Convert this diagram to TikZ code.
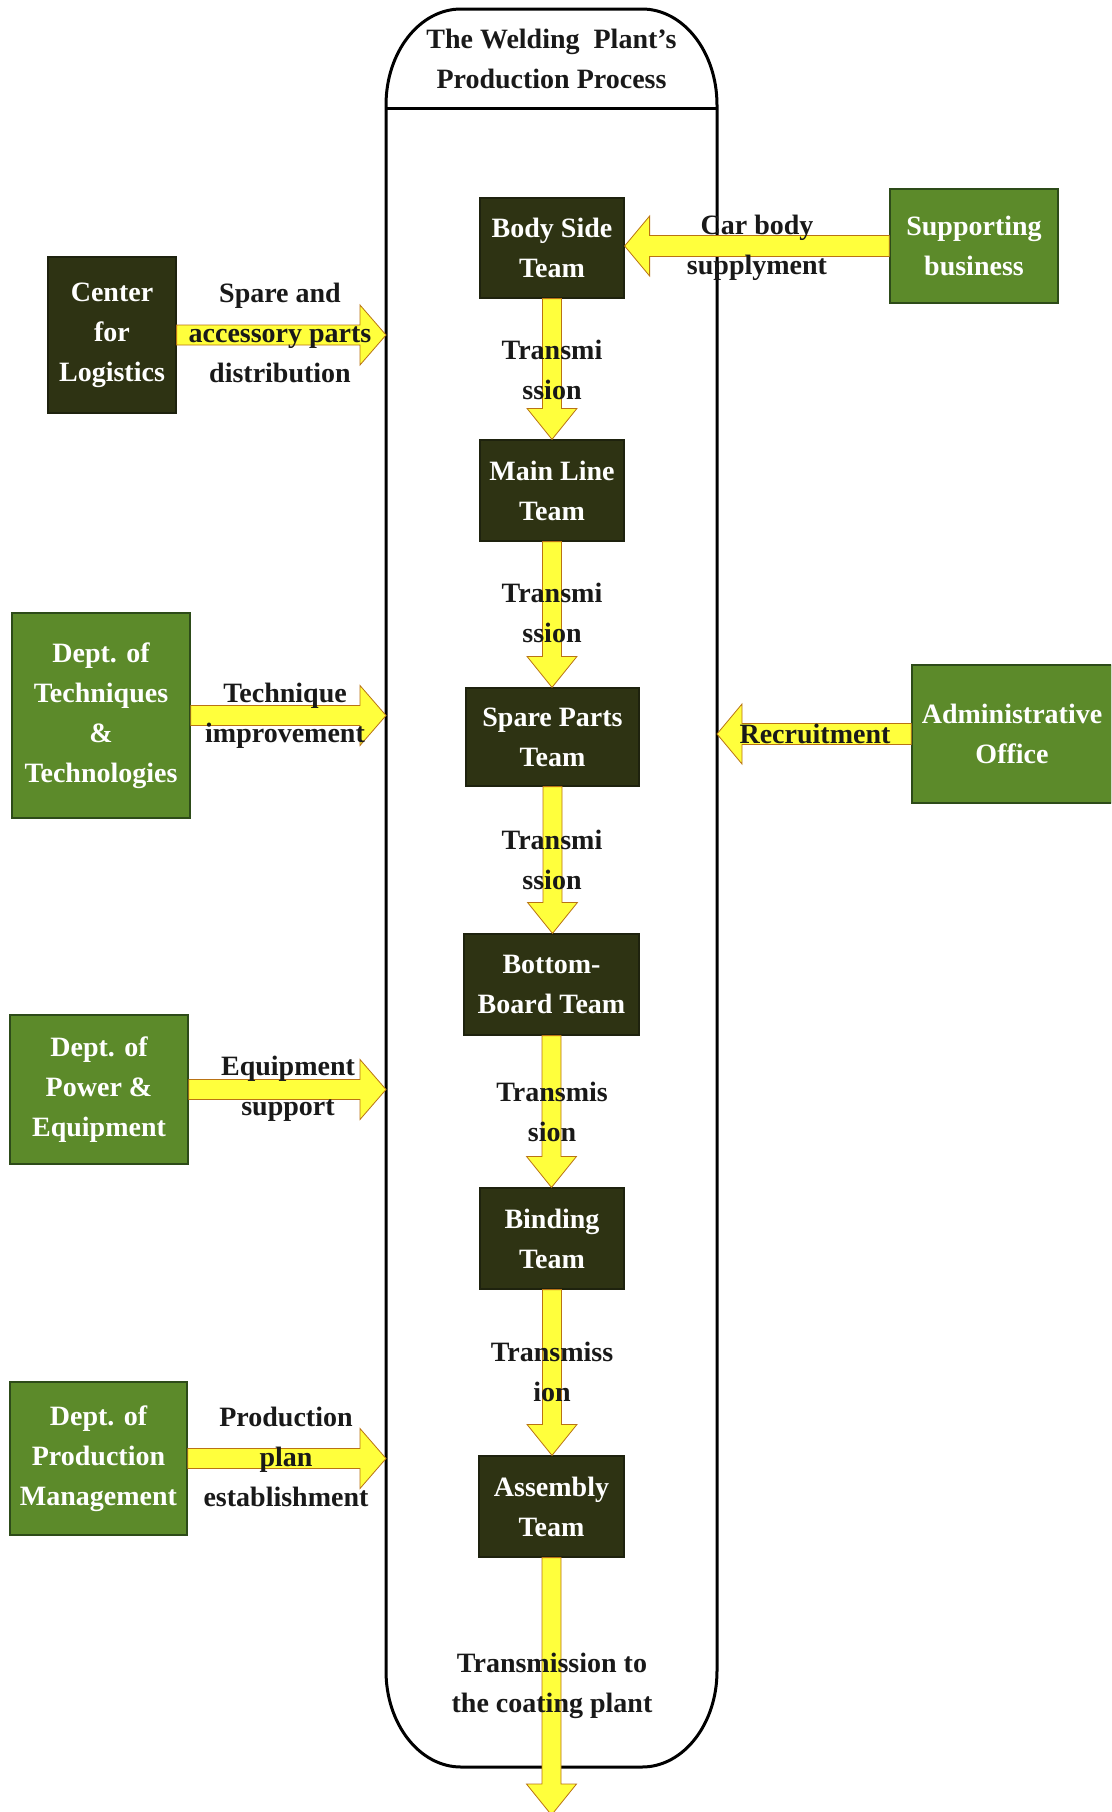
\documentclass[tikz,border=0pt]{standalone}
\usepackage{fontspec}
\setmainfont{Liberation Serif}
\usetikzlibrary{calc}

\definecolor{teamfill}{RGB}{46,51,19}
\definecolor{deptgreen}{RGB}{92,138,42}
\definecolor{teamedge}{RGB}{30,34,14}
\definecolor{deptedge}{RGB}{45,75,25}
\definecolor{arrowfill}{RGB}{255,255,60}
\definecolor{arrowedge}{RGB}{185,115,20}
\definecolor{ink}{RGB}{25,25,25}

% block arrow pointing down: shaft from #1, tip at #2
\newcommand\flowdown[2]{\path[flowarrow] let \p1=(#1), \p2=(#2) in
  (\x1-9.5pt,\y1) -- (\x1-9.5pt,\y2+31pt) -- (\x1-25pt,\y2+31pt) -- (\x1,\y2)
  -- (\x1+25pt,\y2+31pt) -- (\x1+9.5pt,\y2+31pt) -- (\x1+9.5pt,\y1) -- cycle;}
% block arrow pointing right: shaft from #1, tip at #2
\newcommand\flowright[2]{\path[flowarrow] let \p1=(#1), \p2=(#2) in
  (\x1,\y1+10pt) -- (\x2-26pt,\y1+10pt) -- (\x2-26pt,\y1+30pt) -- (\x2,\y1)
  -- (\x2-26pt,\y1-30pt) -- (\x2-26pt,\y1-10pt) -- (\x1,\y1-10pt) -- cycle;}
% block arrow pointing left: shaft from #1, tip at #2
\newcommand\flowleft[2]{\path[flowarrow] let \p1=(#1), \p2=(#2) in
  (\x1,\y1+10.5pt) -- (\x2+25pt,\y1+10.5pt) -- (\x2+25pt,\y1+30pt) -- (\x2,\y1)
  -- (\x2+25pt,\y1-30pt) -- (\x2+25pt,\y1-10.5pt) -- (\x1,\y1-10.5pt) -- cycle;}

\begin{document}
\begin{tikzpicture}[x=1pt,y=-1pt,
  every node/.style={font=\fontsize{28}{40}\selectfont\bfseries,
    align=center, inner sep=0pt, text=ink},
  team/.style={draw=teamedge, line width=1.2pt, fill=teamfill, text=white},
  dark/.style={draw=teamedge, line width=1.2pt, fill=teamfill, text=white},
  dept/.style={draw=deptedge, line width=1.5pt, fill=deptgreen, text=white},
  flowarrow/.style={fill=arrowfill, draw=arrowedge, line width=0.8pt, line join=miter},
  frame/.style={draw=black, line width=3pt}]

\path[use as bounding box, clip] (0,0) rectangle (1111,1812);
\fill[white] (0,0) rectangle (1111,1812);

% the plant frame with its title bar
\draw[frame] (386,105) arc[start angle=180, end angle=270, x radius=75, y radius=96]
  -- (642,9) arc[start angle=270, end angle=360, x radius=75, y radius=96]
  -- (717,1671) arc[start angle=0, end angle=90, x radius=75, y radius=96]
  -- (461,1767) arc[start angle=90, end angle=180, x radius=75, y radius=96]
  -- cycle;
\draw[frame] (386,108) -- (717,108);
\coordinate (frameL) at (386,108);
\coordinate (frameR) at (717,108);
\node (title) at (551.5,59) {The Welding~~Plant's\\Production Process};

% production teams
\node[team, minimum width=144pt, minimum height=100pt] (body)     at (552,248)    {Body Side\\Team};
\node[team, minimum width=144pt, minimum height=101pt] (mainline) at (552,490.5)  {Main Line\\Team};
\node[team, minimum width=173pt, minimum height=98pt]  (spare)    at (552.5,737)  {Spare Parts\\Team};
\node[team, minimum width=175pt, minimum height=101pt] (bottom)   at (551.5,984.5){Bottom-\\Board Team};
\node[team, minimum width=144pt, minimum height=101pt] (binding)  at (552,1238.5) {Binding\\Team};
\node[team, minimum width=145pt, minimum height=101pt] (assembly) at (551.5,1506.5){Assembly\\Team};
\coordinate (exit) at (552,1815);

% supporting departments
\node[dark, minimum width=128pt, minimum height=156pt] (logistics)  at (112,335)    {Center\\for\\Logistics};
\node[dept, minimum width=178pt, minimum height=205pt] (techniques) at (101,715.5)  {Dept. of\\Techniques\\\&\\Technologies};
\node[dept, minimum width=178pt, minimum height=149pt] (power)      at (99,1089.5)  {Dept. of\\Power \&\\Equipment};
\node[dept, minimum width=177pt, minimum height=153pt] (prodmgmt)   at (98.5,1458.5){Dept. of\\Production\\Management};
\node[dept, minimum width=168pt, minimum height=114pt] (supporting) at (974,246)    {Supporting\\business};
\node[dept, minimum width=200pt, minimum height=138pt] (admin)      at (1012,734)   {Administrative\\Office};

% transmission along the line
\flowdown{body.south}{body.south |- mainline.north}
\flowdown{mainline.south}{mainline.south |- spare.north}
\flowdown{spare.south}{spare.south |- bottom.north}
\flowdown{bottom.south}{bottom.south |- binding.north}
\flowdown{binding.south}{binding.south |- assembly.north}
\flowdown{assembly.south}{exit}

% inputs from the departments
\flowright{logistics.east}{logistics.east -| frameL}
\flowright{techniques.east}{techniques.east -| frameL}
\flowright{power.east}{power.east -| frameL}
\flowright{prodmgmt.east}{prodmgmt.east -| frameL}
\flowleft{supporting.west}{supporting.west -| body.east}
\flowleft{admin.west}{admin.west -| frameR}

% arrow labels
\node (t1) at (552,370)  {Transmi\\ssion};
\node (t2) at (552,613)  {Transmi\\ssion};
\node (t3) at (552,860)  {Transmi\\ssion};
\node (t4) at (552,1112) {Transmis\\sion};
\node (t5) at (552,1372) {Transmiss\\ion};
\node (t6) at (552,1686) {Transmission to\\the coating plant};
\node (l1) at (280,333)  {Spare and\\accessory parts\\distribution};
\node (l2) at (285,716)  {Technique\\improvement};
\node (l3) at (288,1089) {Equipment\\support};
\node (l4) at (286,1457) {Production\\plan\\establishment};
\node (l5) at (757,248)  {Car body\\supplyment};
\node (l6) at (815,734)  {Recruitment};
\end{tikzpicture}
\end{document}
